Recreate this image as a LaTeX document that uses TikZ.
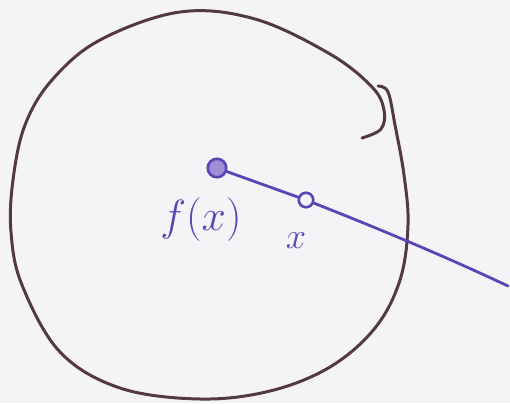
\documentclass[tikz,border=0pt]{standalone}
\usepackage{amsmath}
\usepackage{xcolor}
\usepackage{tikz}
\usetikzlibrary{positioning,calc}
\definecolor{penbrown}{HTML}{523A3E}
\definecolor{penblue}{HTML}{5B45B5}
\definecolor{paper}{HTML}{F4F3F6}

\begin{document}
\begin{tikzpicture}[
    x=0.02cm,y=-0.02cm,
    contour/.style = {penbrown, line width=1.7pt, line cap=round, line join=round},
    trait/.style   = {penblue, line width=1.6pt, line cap=round},
    pt/.style      = {circle, draw=penblue, line width=1.5pt, inner sep=0pt,
                      minimum size=0.29cm},
    ptplein/.style = {pt, fill=penblue!60, minimum size=0.37cm},
    etiq/.style    = {text=penblue, inner sep=1pt},
  ]

  % Fond et cadre
  \fill[paper] (0,0) rectangle (510,403);
  \useasboundingbox (0,0) rectangle (510,403);

  % Bord du disque, trace a main levee
  \draw[contour] plot[smooth, tension=0.6] coordinates {
      (362,138) (381,129) (384,110) (372,87) (330,54) (255,19)
      (180,12) (100,40) (52,80) (25,125) (13,180) (11,232) (22,285)
      (60,352) (120,388) (200,399) (270,391) (330,367) (375,328)
      (400,280) (408,225) (404,175) (395,125) (388,92) (378,86)};

  % Points
  \node[ptplein] (fx) at (217,168) {};
  \node[pt]      (xp) at (306,200) {};
  \coordinate    (fin) at (508,286);

  \node[etiq,font=\Huge] (lfx) at (201,220) {$f(x)$};
  \node[etiq,font=\huge] (lx)  at (296,241) {$x$};

  % Segment
  \draw[trait] (fx) -- (xp);
  \draw[trait] (xp) .. controls (372,226) and (440,254) .. (fin);

\end{tikzpicture}
\end{document}
